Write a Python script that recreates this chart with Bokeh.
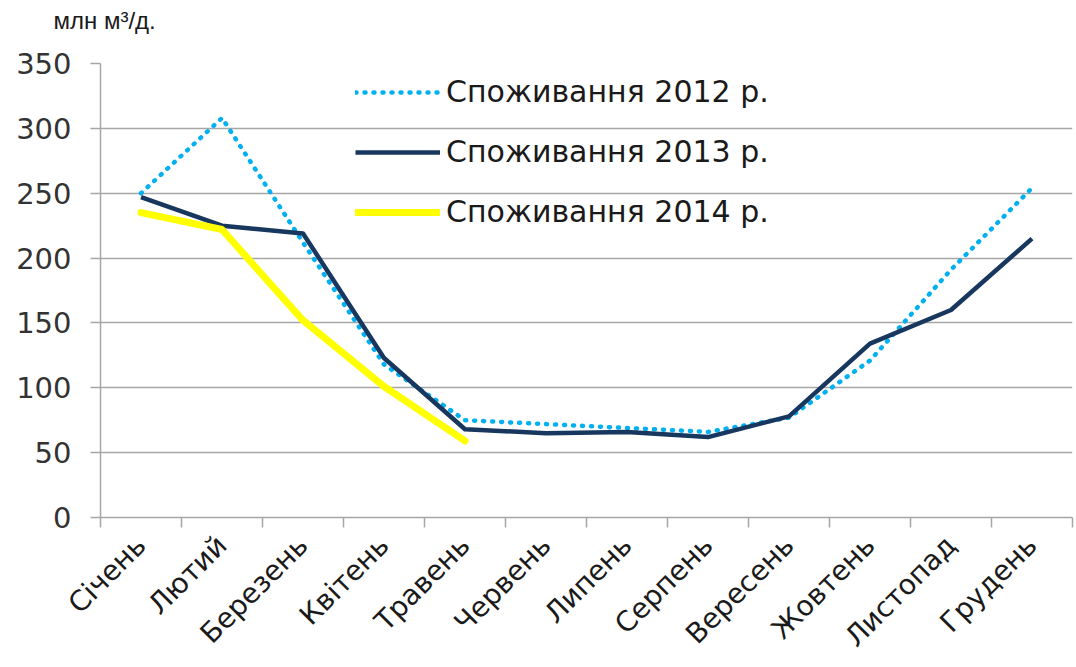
import math
from bokeh.plotting import figure
from bokeh.models import FixedTicker, Legend, LegendItem, Title, Range1d
from bokeh.embed import file_html
from bokeh.resources import INLINE

months = ["Січень", "Лютий", "Березень", "Квітень", "Травень", "Червень",
          "Липень", "Серпень", "Вересень", "Жовтень", "Листопад", "Грудень"]
cons_2012 = [250, 308, 212, 118, 75, 72, 69, 66, 77, 121, 191, 254]
cons_2013 = [247, 225, 219, 123, 68, 65, 66, 62, 78, 134, 160, 215]
cons_2014 = [235, 222, 152, 101, 59]
y_ticks = [0, 50, 100, 150, 200, 250, 300, 350]

FONT = "DejaVu Sans"
GRAY = "#a6a6a6"

p = figure(width=1074, height=667, output_backend="svg", toolbar_location=None,
           x_range=Range1d(0, 12), y_range=Range1d(0, 350),
           min_border_left=100, min_border_right=2, min_border_top=63,
           min_border_bottom=149, outline_line_color=None)

xs = [i + 0.5 for i in range(len(months))]

r12 = p.line(xs, cons_2012, line_color="#00b0f0", line_width=4.5,
             line_dash="1 8", line_cap="round")
r13 = p.line(xs, cons_2013, line_color="#17375e", line_width=4.5, line_join="round")
r14 = p.line(xs[:len(cons_2014)], cons_2014, line_color="#ffff00", line_width=7,
             line_join="round", line_cap="round")

# x axis: labels at category centres, ticks at category boundaries
p.xaxis.ticker = FixedTicker(ticks=xs, minor_ticks=list(range(0, 13)))
p.xaxis.major_label_overrides = {x: m for x, m in zip(xs, months)}
p.xaxis.major_label_orientation = math.pi / 4
p.xaxis.major_tick_line_color = None
p.xaxis.major_tick_in = 0
p.xaxis.major_tick_out = 0
p.xaxis.minor_tick_line_color = GRAY
p.xaxis.minor_tick_line_width = 1.5
p.xaxis.minor_tick_in = 0
p.xaxis.minor_tick_out = 10
p.xaxis.axis_line_color = GRAY
p.xaxis.axis_line_width = 1.5
p.xaxis.major_label_text_font = FONT
p.xaxis.major_label_text_font_size = "28px"
p.xaxis.major_label_text_color = "#1a1a1a"
p.xaxis.major_label_standoff = 13

# y axis
p.yaxis.ticker = FixedTicker(ticks=y_ticks, minor_ticks=[])
p.yaxis.major_tick_line_color = GRAY
p.yaxis.major_tick_line_width = 1.5
p.yaxis.major_tick_in = 0
p.yaxis.major_tick_out = 10
p.yaxis.axis_line_color = GRAY
p.yaxis.axis_line_width = 1.5
p.yaxis.major_label_text_font = FONT
p.yaxis.major_label_text_font_size = "29px"
p.yaxis.major_label_text_color = "#333333"
p.yaxis.major_label_standoff = 19

p.xgrid.grid_line_color = None
p.ygrid.grid_line_color = GRAY
p.ygrid.grid_line_width = 1.5
p.ygrid.ticker = FixedTicker(ticks=y_ticks)

legend = Legend(items=[
    LegendItem(label="Споживання 2012 р.", renderers=[r12]),
    LegendItem(label="Споживання 2013 р.", renderers=[r13]),
    LegendItem(label="Споживання 2014 р.", renderers=[r14]),
], location=(255, 288), padding=0, margin=0, spacing=25,
    glyph_width=85, glyph_height=30, label_height=30, label_standoff=6,
    label_text_font=FONT, label_text_font_size="30px", label_text_color="#1a1a1a",
    border_line_color=None, background_fill_alpha=0)
p.add_layout(legend)

# spacer above the frame, then the unit caption above it
p.add_layout(Title(text=" ", text_font_size="23px", standoff=2), "above")
p.add_layout(Title(text="млн м³/д.", align="left", offset=-47, standoff=0,
                   text_font="Liberation Sans", text_font_size="24px",
                   text_font_style="normal", text_color="#1a1a1a"), "above")

open("out.html", "w").write(file_html(p, INLINE))
